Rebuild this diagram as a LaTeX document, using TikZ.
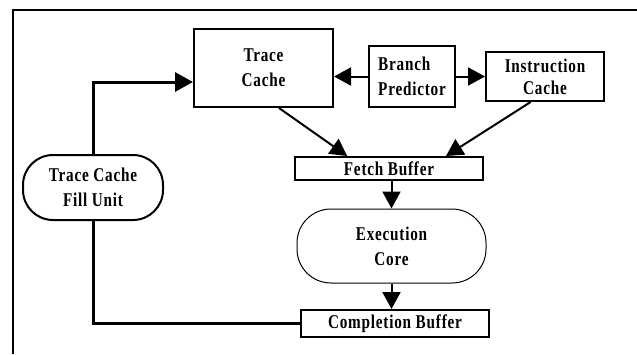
\documentclass[tikz,border=0pt]{standalone}
\usepackage{fontspec}
\setmainfont{Liberation Serif}[FakeStretch=0.78, LetterSpace=4]
\usetikzlibrary{arrows.meta,calc}

\tikzset{
  unit/.style={draw, line width=2pt, inner sep=0pt, align=center,
    font=\fontsize{19.5}{25}\selectfont\bfseries},
  stadium/.style={unit, rounded corners=#1},
  conn/.style={line width=2pt},
  fillconn/.style={line width=3pt},
  arr/.style={conn, -{Triangle[length=17pt 0 0,width=18pt 0 0]}},
  fillarr/.style={fillconn, -{Triangle[length=18pt 0 0,width=19pt 0 0]}},
}

\begin{document}
\begin{tikzpicture}[x=1pt,y=-1pt]
  \useasboundingbox (0,0) rectangle (637,354);

  % open frame round the diagram
  \draw[line width=2pt] (13,354) -- (13,10) -- (637,10);

  % front end
  \node[unit, minimum width=139pt, minimum height=78pt] (tc) at (263.5,68) {Trace\\Cache};
  \node[unit, align=left, minimum width=86pt, minimum height=61pt] (bp) at (412,76.5) {Branch\\Predictor};
  \node[unit, font=\fontsize{19.5}{22}\selectfont\bfseries, minimum width=118pt, minimum height=49pt] (ic) at (545,76.5) {Instruction\\Cache};
  \node[unit, minimum width=188pt, minimum height=23pt] (fb) at (389,168.5) {Fetch Buffer};

  % back end
  \node[stadium=34pt, line width=1pt, minimum width=189pt, minimum height=74pt] (ec) at (391.5,246) {Execution\\Core};
  \node[unit, minimum width=188pt, minimum height=27pt] (cb) at (395,323.5) {Completion Buffer};

  % fill unit
  \node[stadium=30pt, minimum width=140pt, minimum height=65pt] (fu) at (93,187.5) {Trace Cache\\Fill Unit};

  % branch predictor outputs
  \draw[arr] (bp.west) -- (bp.west -| tc.east);
  \draw[arr] (bp.east) -- (bp.east -| ic.west);

  % caches into the fetch buffer
  \draw[arr] ($(tc.south west)!0.61!(tc.south east)$) -- ($(fb.north west)!0.28!(fb.north east)$);
  \draw[arr] ($(ic.south west)!0.38!(ic.south east)$) -- ($(fb.north west)!0.80!(fb.north east)$);

  % pipeline
  \draw[arr] (fb.south -| ec.north) -- (ec.north);
  \draw[arr] (ec.south) -- (ec.south |- cb.north);

  % fill path
  \draw[fillconn] (cb.west) -| (fu.south);
  \draw[fillarr] (fu.north) |- ([yshift=-14pt]tc.west);
\end{tikzpicture}
\end{document}
